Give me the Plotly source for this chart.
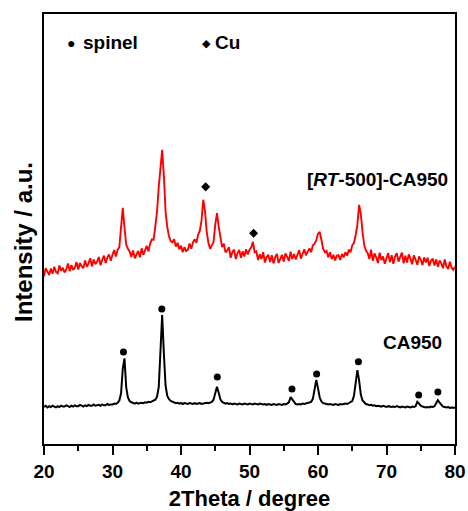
import plotly.graph_objects as go

# Sampling grid of the diffractometer (degrees 2-theta, 0.25 step)
two_theta = [20 + 0.25 * i for i in range(241)]

# CA950 pattern (intensity, arbitrary units)
ca950 = [
    8.6, 8.9, 8.5, 8.8,   8.6, 8.9, 8.7, 8.5,   8.8, 8.6, 8.9, 8.7,   8.7, 9.0, 8.8, 8.6,
    8.9, 8.7, 9.0, 8.8,   8.8, 9.1, 8.9, 8.7,   9.0, 8.8, 9.1, 8.9,   8.9, 9.2, 8.9, 9.0,
    9.1, 8.9, 9.2, 9.0,   9.0, 9.3, 9.1, 9.2,   9.2, 9.4, 9.3, 9.6,   10.1, 11.8, 17.5, 19.9,
    13.2, 10.8, 10.0, 9.7, 9.5, 9.4, 9.6, 9.4,  9.5, 9.6, 9.5, 9.7,   9.6, 9.8, 9.7, 9.9,
    10.0, 10.3, 11.0, 13.2, 21.5, 30.0, 21.0, 13.5, 11.2, 10.4, 10.0, 9.8, 9.6, 9.5, 9.6, 9.4,
    9.5, 9.3, 9.5, 9.4,   9.3, 9.5, 9.4, 9.3,   9.5, 9.3, 9.4, 9.5,   9.3, 9.4, 9.5, 9.6,
    9.5, 9.7, 9.8, 10.3,  11.8, 13.3, 11.9, 10.4, 9.8, 9.6, 9.4, 9.5, 9.3, 9.4, 9.2, 9.4,
    9.3, 9.2, 9.4, 9.3,   9.2, 9.4, 9.3, 9.2,   9.4, 9.3, 9.2, 9.4,   9.3, 9.2, 9.4, 9.3,
    9.2, 9.3, 9.1, 9.3,   9.2, 9.1, 9.3, 9.2,   9.1, 9.3, 9.2, 9.1,   9.3, 9.2, 9.4, 9.7,
    10.9, 10.3, 9.6, 9.3, 9.2, 9.3, 9.2, 9.4,   9.3, 9.4, 9.5, 9.6,   9.8, 10.5, 12.8, 14.9,
    13.0, 10.8, 9.9, 9.5, 9.4, 9.3, 9.2, 9.3,   9.2, 9.1, 9.3, 9.2,   9.1, 9.3, 9.2, 9.3,
    9.4, 9.3, 9.5, 9.7,   10.0, 11.2, 14.0, 17.2, 14.8, 11.5, 10.1, 9.6, 9.3, 9.2, 9.0, 9.1,
    8.9, 9.0, 8.8, 8.9,   8.8, 8.7, 8.9, 8.7,   8.6, 8.8, 8.7, 8.6,   8.7, 8.6, 8.8, 8.6,
    8.5, 8.7, 8.6, 8.5,   8.7, 8.6, 8.5, 8.7,   8.6, 8.8, 9.8, 9.4,   8.9, 8.7, 8.6, 8.5,
    8.6, 8.5, 8.7, 8.6,   8.8, 9.5, 10.2, 9.6,  9.0, 8.7, 8.6, 8.5,   8.6, 8.4, 8.5, 8.4,
    8.4,
]

# [RT-500]-CA950 pattern (offset upward, arbitrary units, noisy)
rt500_ca950 = [
    39.0, 40.9, 40.1, 39.3,  40.8, 39.6, 41.2, 40.0,  39.7, 41.5, 40.3, 41.0,  39.9, 40.6, 42.0, 40.2,
    41.6, 40.5, 41.0, 42.3,  40.6, 42.1, 41.3, 40.9,  42.7, 41.2, 42.0, 43.2,  41.3, 42.9, 41.8, 42.4,
    43.5, 41.6, 42.8, 43.8,  42.1, 43.4, 44.1, 42.6,  44.0, 45.1, 43.6, 45.2,  45.8, 50.5, 54.9, 50.3,
    46.4, 45.4, 44.8, 43.5,  45.0, 43.2, 44.1, 44.9,  43.4, 45.5, 44.0, 45.0,  46.1, 44.8, 46.6, 47.6,
    47.5, 50.6, 54.0, 59.8,  64.0, 68.4, 62.3, 54.0,  50.4, 48.3, 47.2, 46.9,  47.6, 45.9, 46.8, 45.3,
    46.1, 44.6, 45.8, 44.9,  45.2, 46.6, 45.4, 46.9,  47.6, 46.8, 48.7, 49.6,  52.0, 56.8, 54.2, 49.4,
    46.8, 45.4, 46.2, 47.0,  51.0, 53.7, 50.6, 48.0,  45.8, 46.6, 44.6, 45.0,  45.8, 43.3, 44.6, 45.2,
    43.0, 44.4, 45.1, 43.3,  44.8, 43.6, 45.3, 44.1,  45.2, 45.7, 47.0, 44.6,  44.8, 42.8, 44.1, 43.0,
    44.6, 42.2, 43.5, 44.0,  42.3, 43.9, 42.0, 43.4,  44.2, 42.1, 43.0, 44.0,  42.4, 44.3, 43.5, 42.6,
    44.7, 43.0, 44.2, 42.9,  44.0, 45.1, 43.1, 44.5,  45.3, 43.9, 44.8, 45.5,  44.6, 46.2, 46.6, 47.4,
    48.9, 49.3, 47.5, 45.4,  44.6, 44.9, 43.4, 44.6,  43.0, 44.0, 42.7, 43.8,  43.9, 42.8, 44.2, 43.4,
    44.6, 43.8, 45.2, 44.6,  46.2, 46.8, 48.6, 51.0,  55.6, 53.5, 49.3, 46.2,  45.0, 44.4, 43.0, 45.2,
    42.6, 44.3, 43.4, 42.1,  44.5, 42.8, 43.6, 41.9,  43.2, 44.4, 42.3, 43.9,  41.9, 43.6, 44.4, 42.4,
    43.5, 44.5, 42.0, 43.8,  42.2, 44.1, 43.1, 41.8,  43.9, 42.6, 41.7, 43.6,  42.9, 41.6, 43.4, 42.2,
    43.3, 41.4, 42.6, 43.1,  41.5, 42.9, 41.2, 42.7,  42.0, 40.9, 42.9, 41.3,  40.7, 42.4, 41.0, 40.5,
    41.2,
]

# Phase markers
spinel_x = [31.6, 37.2, 45.3, 56.2, 59.8, 65.9, 74.7, 77.5]
spinel_y = [21.4, 31.4, 15.6, 12.8, 16.3, 19.1, 11.4, 12.1]
cu_x = [43.6, 50.6]
cu_y = [59.8, 49.0]

FONT = "Liberation Sans, Arial, sans-serif"

fig = go.Figure()
fig.add_trace(go.Scatter(x=two_theta, y=ca950, mode="lines",
                         line=dict(color="black", width=2), showlegend=False))
fig.add_trace(go.Scatter(x=two_theta, y=rt500_ca950, mode="lines",
                         line=dict(color="#ff0000", width=1.9), showlegend=False))
fig.add_trace(go.Scatter(x=spinel_x, y=spinel_y, mode="markers",
                         marker=dict(symbol="circle", size=7, color="black"),
                         showlegend=False))
fig.add_trace(go.Scatter(x=cu_x, y=cu_y, mode="markers",
                         marker=dict(symbol="diamond", size=7, color="black"),
                         showlegend=False))

W, H = 468, 511
L, R, T, B = 44, 13, 14, 67
pw, ph = W - L - R, H - T - B


def px(xp):
    return (xp - L) / pw


def py(yp):
    return (H - B - yp) / ph


ann = []
ann.append(dict(x=px(71), y=py(43), text="●", font=dict(size=14, color="black", family=FONT),
                xanchor="center", yanchor="middle"))
ann.append(dict(x=px(81), y=py(43), text="<b>spinel</b>", font=dict(size=19, color="black", family=FONT),
                xanchor="left", yanchor="middle"))
ann.append(dict(x=px(206), y=py(43), text="◆", font=dict(size=11, color="black", family=FONT),
                xanchor="center", yanchor="middle"))
ann.append(dict(x=px(213), y=py(43), text="<b>Cu</b>", font=dict(size=19, color="black", family=FONT),
                xanchor="left", yanchor="middle"))
ann.append(dict(x=px(450), y=py(180), text="<b>[<i>RT</i>-500]-CA950</b>",
                font=dict(size=19, color="black", family=FONT), xanchor="right", yanchor="middle"))
ann.append(dict(x=px(444), y=py(342), text="<b>CA950</b>",
                font=dict(size=19, color="black", family=FONT), xanchor="right", yanchor="middle"))
ann.append(dict(x=px(24), y=py(242), text="<b>Intensity / a.u.</b>", textangle=-90,
                font=dict(size=24, color="black", family=FONT), xanchor="center", yanchor="middle"))
for a in ann:
    a.update(xref="paper", yref="paper", showarrow=False)

fig.update_layout(
    width=W, height=H,
    margin=dict(l=L, r=R, t=T, b=B),
    paper_bgcolor="white", plot_bgcolor="white",
    font=dict(family=FONT, color="black"),
    annotations=ann,
    xaxis=dict(
        range=[20, 80], dtick=10, tick0=20, automargin=False,
        ticks="outside", ticklen=9, tickwidth=2, tickcolor="black",
        minor=dict(dtick=5, ticks="outside", ticklen=5, tickwidth=2, tickcolor="black"),
        showline=True, linewidth=2, linecolor="black", mirror=True,
        showgrid=False, zeroline=False,
        tickfont=dict(size=19, family=FONT, weight="bold"),
        title=dict(text="2Theta / degree", font=dict(size=22, family=FONT, weight="bold")),
    ),
    yaxis=dict(
        range=[0, 100], showticklabels=False, ticks="", automargin=False,
        showline=True, linewidth=2, linecolor="black", mirror=True,
        showgrid=False, zeroline=False,
    ),
)

fig.write_html("out.html")
